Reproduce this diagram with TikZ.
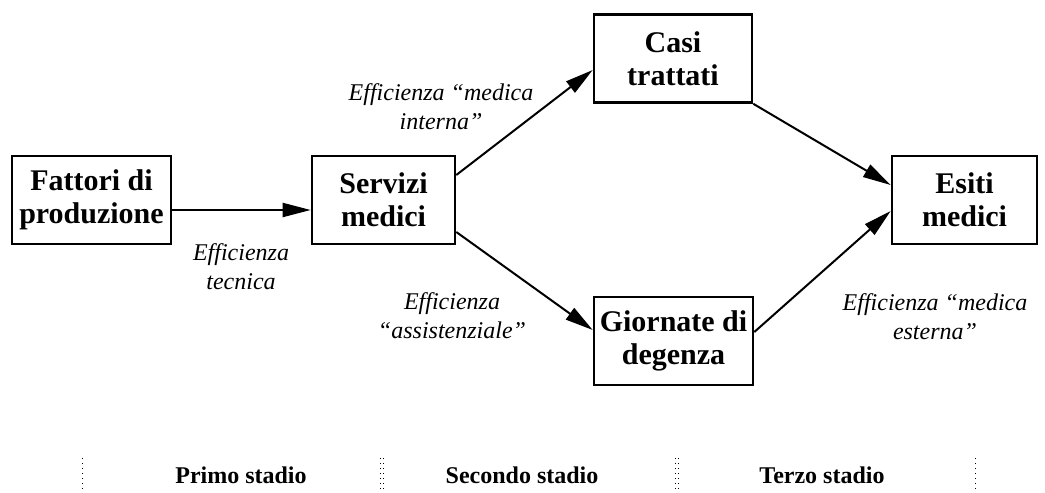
\documentclass[tikz,border=0pt]{standalone}
\usepackage{fontspec}
\setmainfont{Liberation Serif}
\usetikzlibrary{arrows.meta,positioning}

\begin{document}
\begin{tikzpicture}[>={Triangle[length=14pt,width=7pt]},x=0.5pt,y=-0.5pt,
        box/.style={draw,line width=1.3pt,align=center,inner sep=0pt,
            minimum height=44pt,font=\fontsize{15}{16.5}\selectfont\bfseries},
        lab/.style={align=center,font=\fontsize{12}{14.5}\selectfont\itshape},
        stadio/.style={font=\fontsize{12}{14.5}\selectfont\bfseries},
        arr/.style={->,line width=1pt}]
        \useasboundingbox (0,0) rectangle (1045,493);

        	\node[box,minimum width=79.5pt]  (fat)  at (91.5,200)  {Fattori di\\produzione};
            \node[box,minimum width=71.5pt] (ser) [right of=fat,node distance=146pt] {Servizi\\medici};
            \node[box,minimum width=79pt] (casi) at (673,58.5) {Casi\\trattati};
            \node[box,minimum width=79.5pt] (gio) at (673.5,341) {Giornate di\\degenza};
            \node[box,minimum width=72.5pt] (esi) [right of=ser,node distance=290.5pt] {Esiti\\medici};

            \node[lab] (etec) at (241,267) {Efficienza\\tecnica};
            \node[lab] (eint) at (441,107) {Efficienza ``medica\\interna''};
            \node[lab] (eass) at (452,316) {Efficienza\\``assistenziale''};
            \node[lab] (eest) at (935,317) {Efficienza ``medica\\esterna''};

            \node[stadio] (st1) at (241,475) {Primo stadio};
            \node[stadio] (st2) at (522,475) {Secondo stadio};
            \node[stadio] (st3) at (822,475) {Terzo stadio};

            \draw[arr] ([yshift=-5pt]fat.east) -- ([yshift=-5pt]ser.west);
            \draw[arr] ([yshift=12.5pt]ser.east) -- ([yshift=-5.75pt]casi.west);
            \draw[arr] ([yshift=-16pt]ser.east) -- ([yshift=5.5pt]gio.west);
            \draw[arr] (casi.south east) -- ([yshift=7.5pt]esi.west);
            \draw[arr] ([yshift=4.5pt]gio.east) -- ([yshift=-5.5pt]esi.west);

            \foreach \x in {82,380.5,383.5,675.5,678.5,975}
                \draw[dotted,line width=0.5pt] (\x,458) -- (\x,493);
\end{tikzpicture}
\end{document}
